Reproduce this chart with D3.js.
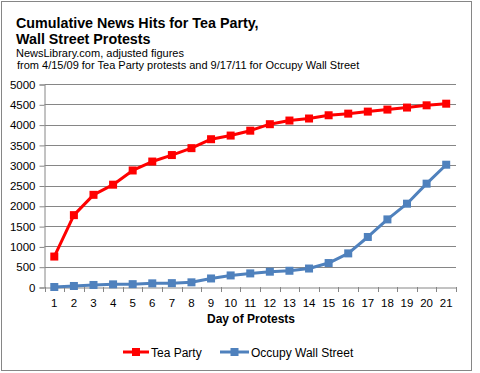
<!DOCTYPE html>
<html>
<head>
<meta charset="utf-8">
<script src="https://cdn.jsdelivr.net/npm/d3@7"></script>
<style>
  body { margin: 0; background: #fff; }
  svg { display: block; font-family: "Liberation Sans", Arial, sans-serif; }
</style>
</head>
<body>
<div id="chart"></div>
<script>
var days = d3.range(1, 22);
var teaParty = [750, 1770, 2270, 2520, 2870, 3090, 3250, 3420, 3640, 3730, 3850, 4010, 4100, 4150, 4230, 4270, 4320, 4370, 4420, 4475, 4515];
var occupy = [0, 25, 50, 65, 70, 90, 95, 115, 210, 285, 335, 377, 400, 455, 590, 828, 1232, 1665, 2052, 2545, 3012];
var yTicks = d3.range(0, 5001, 500);

var width = 480, height = 373;
var svg = d3.select("#chart").append("svg")
    .attr("width", width)
    .attr("height", height);

// outer frame
svg.append("rect")
    .attr("x", 1.5).attr("y", 1.5)
    .attr("width", 470).attr("height", 369)
    .attr("fill", "#fff")
    .attr("stroke", "#868686");

// title block
var title = svg.append("text")
    .attr("font-weight", "bold")
    .attr("font-size", 14.3)
    .attr("fill", "#000");
title.append("tspan").attr("x", 16).attr("y", 28).text("Cumulative News Hits for Tea Party,");
title.append("tspan").attr("x", 16).attr("y", 44).text("Wall Street Protests");

var sub = svg.append("text")
    .attr("font-size", 11)
    .attr("fill", "#000");
sub.append("tspan").attr("x", 16).attr("y", 57).text("NewsLibrary.com, adjusted figures");
sub.append("tspan").attr("x", 17).attr("y", 69).text("from 4/15/09  for Tea Party protests and 9/17/11 for Occupy Wall Street");

var plotLeft = 44.5, plotRight = 456, plotTop = 84, plotBottom = 287;

var x = d3.scaleBand()
    .domain(days)
    .range([plotLeft, plotRight]);

var y = d3.scaleLinear()
    .domain([0, 5000])
    .range([plotBottom, plotTop]);

// gridlines
svg.append("g")
    .selectAll("line")
    .data(yTicks.slice(1))
    .join("line")
    .attr("x1", plotLeft).attr("x2", plotRight)
    .attr("y1", d => Math.round(y(d)) + 0.5)
    .attr("y2", d => Math.round(y(d)) + 0.5)
    .attr("stroke", "#868686")
    .attr("stroke-width", 1);

// y axis
var yAxis = svg.append("g")
    .attr("transform", "translate(" + plotLeft + ",0.5)")
    .call(d3.axisLeft(y).tickValues(yTicks).tickSize(5).tickPadding(4).tickFormat(d3.format("d")));

// x axis
var xAxis = svg.append("g")
    .attr("transform", "translate(0," + (plotBottom + 0.5) + ")")
    .call(d3.axisBottom(x).tickSize(0).tickPadding(11));

svg.append("g")
    .selectAll("line")
    .data(d3.range(0, 22))
    .join("line")
    .attr("x1", d => Math.round(plotLeft + d * x.step()) + 0.5)
    .attr("x2", d => Math.round(plotLeft + d * x.step()) + 0.5)
    .attr("y1", plotBottom)
    .attr("y2", plotBottom + 5)
    .attr("stroke", "#868686");

[yAxis, xAxis].forEach(function(g) {
    g.select(".domain").attr("stroke", "#868686");
    g.selectAll(".tick line").attr("stroke", "#868686");
    g.selectAll(".tick text")
        .attr("font-size", 11.5)
        .attr("font-family", "Liberation Sans, Arial, sans-serif")
        .attr("fill", "#000");
});

svg.append("text")
    .attr("x", 251).attr("y", 323)
    .attr("text-anchor", "middle")
    .attr("font-weight", "bold")
    .attr("font-size", 12)
    .text("Day of Protests");

var series = [
    { name: "Tea Party", values: teaParty, color: "#FF0000" },
    { name: "Occupy Wall Street", values: occupy, color: "#4F81BD" }
];

var line = d3.line()
    .x((d, i) => x(days[i]) + x.bandwidth() / 2)
    .y(d => y(d));

series.slice().reverse().forEach(function(s) {
    svg.append("path")
        .datum(s.values)
        .attr("d", line)
        .attr("fill", "none")
        .attr("stroke", s.color)
        .attr("stroke-width", 3)
        .attr("stroke-linejoin", "round");
    svg.append("g")
        .selectAll("rect")
        .data(s.values)
        .join("rect")
        .attr("x", (d, i) => x(days[i]) + x.bandwidth() / 2 - 4)
        .attr("y", d => y(d) - 4)
        .attr("width", 8)
        .attr("height", 8)
        .attr("fill", s.color);
});

// legend
var legendX = [123, 220];
var legend = svg.append("g")
    .selectAll("g")
    .data(series)
    .join("g")
    .attr("transform", (d, i) => "translate(" + legendX[i] + ",352)");
legend.append("line")
    .attr("x1", 0).attr("x2", (d, i) => i === 0 ? 26 : 29)
    .attr("stroke", d => d.color)
    .attr("stroke-width", 3);
legend.append("rect")
    .attr("x", (d, i) => (i === 0 ? 13 : 14.5) - 4)
    .attr("y", -4)
    .attr("width", 8).attr("height", 8)
    .attr("fill", d => d.color);
legend.append("text")
    .attr("x", (d, i) => i === 0 ? 28 : 31)
    .attr("y", 4.5)
    .attr("font-size", 12)
    .text(d => d.name);
</script>
</body>
</html>
